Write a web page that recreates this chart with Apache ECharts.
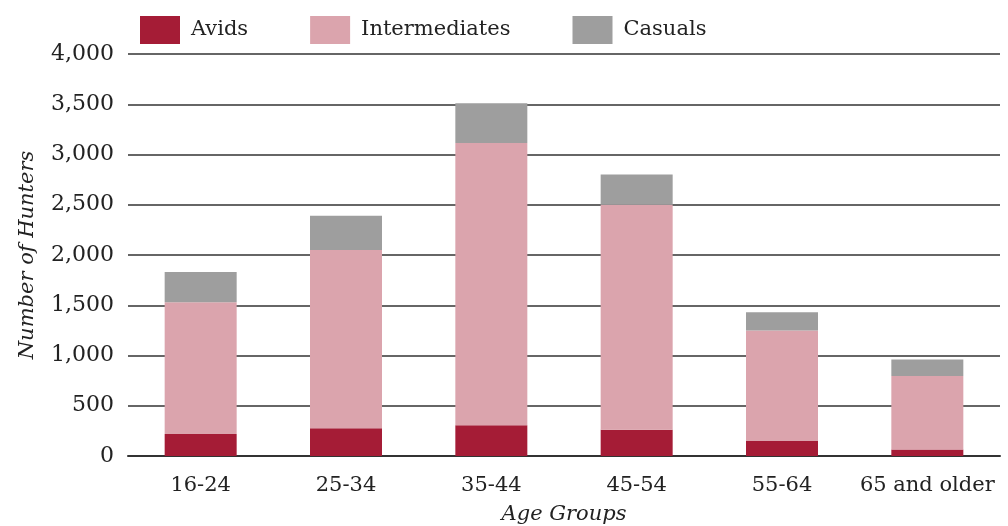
<!DOCTYPE html>
<html><head><meta charset="utf-8">
<script src="https://cdn.jsdelivr.net/npm/echarts@6/dist/echarts.min.js"></script>
<style>html,body{margin:0;padding:0;background:#fff}#c{width:1008px;height:526px}</style>
</head><body><div id="c"></div>
<script>
const categories = ['16-24','25-34','35-44','45-54','55-64','65 and older'];
const avids = [220, 275, 305, 260, 150, 65];
const intermediates = [1310, 1775, 2810, 2240, 1100, 730];
const casuals = [300, 340, 395, 300, 180, 165];
const seriesNames = ['Avids','Intermediates','Casuals'];
const colors = ['#A51C36','#DBA4AD','#9E9E9E'];
const font = 'DejaVu Serif';
const chart = echarts.init(document.getElementById('c'));
chart.setOption({
  animation:false,
  textStyle:{fontFamily:font},
  legend:{top:11,left:135,itemWidth:40,itemHeight:28,itemGap:62,
    textStyle:{fontFamily:font,fontSize:21,color:'#222',padding:[0,0,0,6]},
    data:seriesNames, icon:'rect'},
  grid:{left:128,right:8,top:54,bottom:70,containLabel:false,outerBoundsMode:'none'},
  xAxis:{type:'category',data:categories,
    axisLine:{lineStyle:{color:'#333',width:2}},axisTick:{show:false},
    axisLabel:{interval:0,fontFamily:font,fontSize:21,color:'#222',margin:19},
    name:'Age Groups',nameLocation:'middle',nameGap:48,
    nameTextStyle:{fontFamily:font,fontStyle:'italic',fontSize:21,color:'#222'}},
  yAxis:{type:'value',min:0,max:4000,interval:500,
    axisLine:{show:false},axisTick:{show:false},
    splitLine:{lineStyle:{color:'#333',width:1.5}},
    axisLabel:{fontFamily:font,fontSize:22,color:'#222',margin:14,
      formatter:v=>v.toLocaleString('en-US')},
    name:'Number of Hunters',nameLocation:'middle',nameGap:90,
    nameTextStyle:{fontFamily:font,fontStyle:'italic',fontSize:21,color:'#222'}},
  series:[
    {name:seriesNames[0],type:'bar',stack:'s',data:avids,barWidth:72,itemStyle:{color:colors[0]}},
    {name:seriesNames[1],type:'bar',stack:'s',data:intermediates,barWidth:72,itemStyle:{color:colors[1]}},
    {name:seriesNames[2],type:'bar',stack:'s',data:casuals,barWidth:72,itemStyle:{color:colors[2]}}
  ]
});
</script></body></html>
